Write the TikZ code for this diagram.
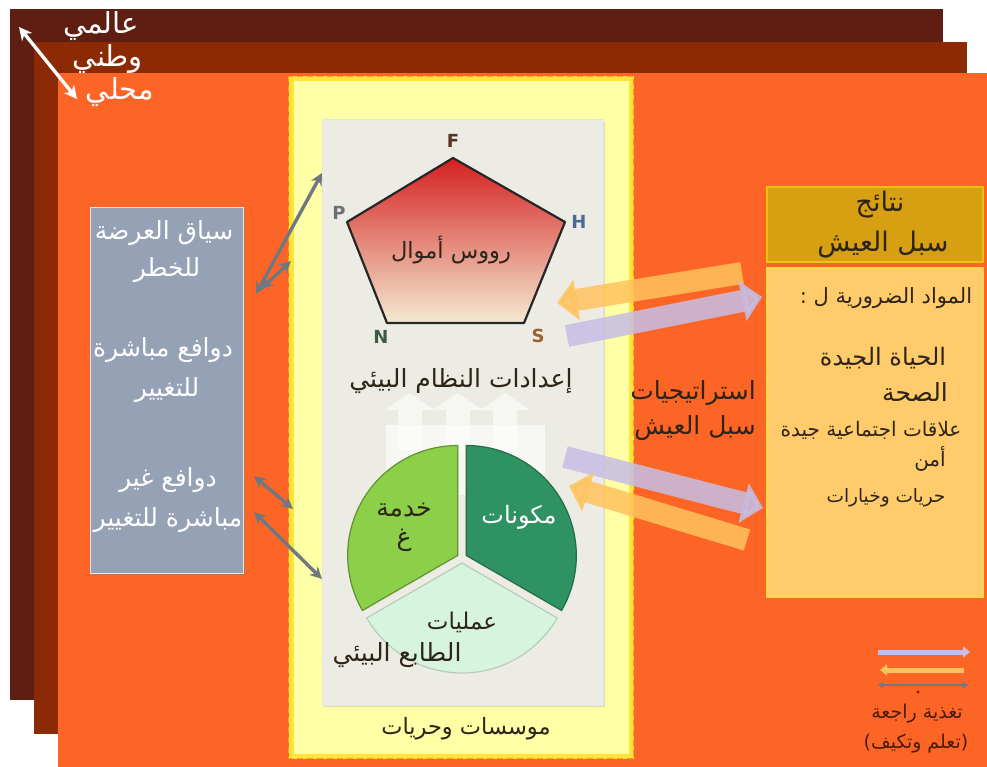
\documentclass[tikz,border=0pt]{standalone}
\usepackage{fontspec}
\setmainfont{DejaVu Sans}
\newfontfamily\arabicfont[Script=Arabic]{DejaVu Sans}
\TeXXeTstate=1
\usetikzlibrary{arrows.meta,calc,shadows}
\newcommand{\ar}[1]{{\arabicfont\beginR #1\endR}}
\definecolor{layerA}{HTML}{5E1E12}
\definecolor{layerB}{HTML}{8C2A06}
\definecolor{orng}{HTML}{FD6527}
\definecolor{ypanel}{HTML}{FFFFA6}
\definecolor{yedge}{HTML}{FFE23A}
\definecolor{ydash}{HTML}{FF9A1A}
\definecolor{gpanel}{HTML}{ECECE5}
\definecolor{lbox}{HTML}{95A1B5}
\definecolor{tbox}{HTML}{D6A012}
\definecolor{cbox}{HTML}{FFCB6B}
\definecolor{bandO}{HTML}{FFC35E}
\definecolor{bandL}{HTML}{C6BEE6}
\definecolor{garrow}{HTML}{6F7880}
\definecolor{txtdark}{HTML}{2E2418}
\definecolor{legtxt}{HTML}{4A1C0C}
\definecolor{pred}{HTML}{D42020}
\definecolor{pmid}{HTML}{EFC2B8}
\definecolor{pcream}{HTML}{F4EBD2}
\definecolor{gdark}{HTML}{2F9262}
\definecolor{glight}{HTML}{8CCF48}
\definecolor{gpale}{HTML}{D6F4DE}
\definecolor{cF}{HTML}{5A3322}
\definecolor{cP}{HTML}{707070}
\definecolor{cH}{HTML}{4A6A90}
\definecolor{cN}{HTML}{3E5C44}
\definecolor{cS}{HTML}{A0602E}
\tikzset{
  fs/.style={font=\fontsize{#1}{#1}\selectfont},
  artxt/.style={fs=24, text=txtdark, align=center, inner sep=0pt},
  wtxt/.style={artxt, text=white},
  band/.style={line width=22pt, opacity=0.85, -{Triangle[length=20pt,width=40pt]}},
  garr/.style={draw=garrow, line width=3.4pt, {Stealth[length=12pt,width=12pt]}-{Stealth[length=12pt,width=12pt]}},
  vlabel/.style={font=\fontsize{18}{18}\selectfont\bfseries, inner sep=0pt},
}
\begin{document}
\begin{tikzpicture}[x=1pt,y=-1pt]
\useasboundingbox (0,0) rectangle (987,767);
\fill[white] (0,0) rectangle (987,767);
% layers
\fill[layerA] (10,9) rectangle (943,700);
\fill[layerB] (34,42) rectangle (967,734);
\fill[orng] (58,73) rectangle (987,767);
% layer labels
\node[wtxt, fs=29] (lglobal) at (101,26) {\ar{عالمي}};
\node[wtxt, fs=29] (lnational) at (108,59) {\ar{وطني}};
\node[wtxt, fs=29] (llocal) at (120,92) {\ar{محلي}};
\coordinate (sA) at (19,27);
\coordinate (sB) at (77,99);
\draw[white, line width=3.4pt, {Stealth[length=13pt,width=13pt]}-{Stealth[length=13pt,width=13pt]}] (sA) -- (sB);
% yellow panel
\node[fill=ypanel, draw=yedge, line width=5pt, minimum width=340pt, minimum height=677pt] (ypan) at (461,417.5) {};
\draw[ydash, line width=1.8pt, dash pattern=on 6pt off 4pt] (ypan.north west) rectangle (ypan.south east);
% gray panel
\node[fill=gpanel, draw=white!80!gray, line width=1pt, minimum width=281pt, minimum height=585pt,
      drop shadow={opacity=0.25, shadow xshift=2pt, shadow yshift=-2pt}] (gpan) at (462.5,412.5) {};
% left box
\node[fill=lbox, draw=white!75!lbox, line width=1pt, minimum width=153pt, minimum height=365pt,
      drop shadow={opacity=0.45, shadow xshift=2pt, shadow yshift=-2pt}] (lbox) at (166.5,390.5) {};
\node[wtxt, fs=25] (l1a) at (164,233) {\ar{سياق العرضة}};
\node[wtxt, fs=25] (l1b) at (167,270) {\ar{للخطر}};
\node[wtxt, fs=25] (l2a) at (163,350) {\ar{دوافع مباشرة}};
\node[wtxt, fs=25] (l2b) at (167,390) {\ar{للتغيير}};
\node[wtxt, fs=25] (l3a) at (168,480) {\ar{دوافع غير}};
\node[wtxt, fs=25] (l3b) at (168,520) {\ar{مباشرة للتغيير}};
% gray connectors
\coordinate (g1a) at (256,294);
\coordinate (g1b) at (322,173);
\coordinate (g2a) at (261,289);
\coordinate (g2b) at (291,261);
\coordinate (g3a) at (254,476);
\coordinate (g3b) at (293,509);
\coordinate (g4a) at (254,512);
\coordinate (g4b) at (322,579);
\draw[garr] (g1a) -- (g1b);
\draw[garr] (g2a) -- (g2b);
\draw[garr] (g3a) -- (g3b);
\draw[garr] (g4a) -- (g4b);
% pentagon
\coordinate (pF) at (453,158);
\coordinate (pH) at (565,222);
\coordinate (pS) at (524,323);
\coordinate (pN) at (387,323);
\coordinate (pP) at (347,222);
\shadedraw[top color=pred, middle color=pmid, bottom color=pcream, draw=black!85, line width=2.2pt, line join=round]
  (pF) -- (pH) -- (pS) -- (pN) -- (pP) -- cycle;
\node[vlabel, text=cF] (tF) at (453,141) {F};
\node[vlabel, text=cP] (tP) at (339,213) {P};
\node[vlabel, text=cH] (tH) at (579,222) {H};
\node[vlabel, text=cN] (tN) at (381,337) {N};
\node[vlabel, text=cS] (tS) at (538,336) {S};
\node[artxt, fs=22.5] (capital) at (451,250) {\ar{رووس أموال}};
\node[artxt, fs=25] (ecoset) at (461,381) {\ar{إعدادات النظام البيئي}};
% up arrows behind pie
\foreach \ux in {410,458,505}{
  \fill[white, opacity=0.55] (\ux-12,450) -- (\ux-12,410) -- (\ux-25,410) -- (\ux,393) -- (\ux+25,410) -- (\ux+12,410) -- (\ux+12,450) -- cycle;
}
\fill[white, opacity=0.6] (386,425) rectangle (545,495);
% pie
\coordinate (pc) at (462,558);
\filldraw[fill=gdark, draw=gdark!75!black, line width=1.2pt] ($(pc)+(-30:5)$) -- ++(30:110) arc[start angle=30, end angle=-90, radius=110] -- cycle;
\filldraw[fill=glight, draw=glight!70!black, line width=1.2pt] ($(pc)+(-150:5)$) -- ++(-90:110) arc[start angle=-90, end angle=-210, radius=110] -- cycle;
\filldraw[fill=gpale, draw=gpale!65!gray, line width=1.2pt] ($(pc)+(90:5)$) -- ++(150:110) arc[start angle=150, end angle=30, radius=110] -- cycle;
\node[wtxt, fs=24] (compo) at (519,517) {\ar{مكونات}};
\node[artxt, fs=25] (serv1) at (404,510) {\ar{خدمة}};
\node[artxt, fs=25] (serv2) at (404,540) {\ar{غ}};
\node[artxt, fs=23] (proc1) at (462,622) {\ar{عمليات}};
\node[artxt, fs=25] (proc2) at (397,655) {\ar{الطابع البيئي}};
\node[artxt, fs=22.5] (inst) at (466,729) {\ar{موسسات وحريات}};
% right boxes
\node[fill=tbox, draw=tbox!60!yellow, line width=1.5pt, minimum width=216pt, minimum height=75pt] (tbox) at (875,224.5) {};
\node[artxt, fs=27] (t1) at (880,205) {\ar{نتائج}};
\node[artxt, fs=27] (t2) at (883,245) {\ar{سبل العيش}};
\node[fill=cbox, draw=cbox!70!yellow, line width=1.5pt, minimum width=216pt, minimum height=329pt] (cbox) at (875,432.5) {};
\node[artxt, fs=21] (c1) at (886,298) {\ar{المواد الضرورية ل :}};
\node[artxt, fs=24] (c2) at (883,358) {\ar{الحياة الجيدة}};
\node[artxt, fs=25] (c3) at (915,392) {\ar{الصحة}};
\node[artxt, fs=20] (c4) at (871,430) {\ar{علاقات اجتماعية جيدة}};
\node[artxt, fs=20] (c5) at (930,459) {\ar{أمن}};
\node[artxt, fs=18.5] (c6) at (886,498) {\ar{حريات وخيارات}};
% strategies
\node[artxt, fs=25] (s1) at (693,393) {\ar{استراتيجيات}};
\node[artxt, fs=25] (s2) at (695,428) {\ar{سبل العيش}};
% broad arrows
\coordinate (oA1) at (742,273);
\coordinate (oA2) at (557,303);
\coordinate (lA1) at (567,336);
\coordinate (lA2) at (762,297);
\coordinate (lB1) at (565,457);
\coordinate (lB2) at (763,508);
\coordinate (oB1) at (747,540);
\coordinate (oB2) at (569,486);
\draw[band, draw=bandO, fill=bandO] (oA1) -- (oA2);
\draw[band, draw=bandL, fill=bandL] (lA1) -- (lA2);
\draw[band, draw=bandL, fill=bandL] (lB1) -- (lB2);
\draw[band, draw=bandO, fill=bandO] (oB1) -- (oB2);
% legend
\coordinate (lg1a) at (878,652);
\coordinate (lg1b) at (970,652);
\coordinate (lg2a) at (964,670);
\coordinate (lg2b) at (880,670);
\coordinate (lg3a) at (878,685);
\coordinate (lg3b) at (968,685);
\draw[bandL, line width=5pt, -{Triangle[length=7pt,width=11pt]}] (lg1a) -- (lg1b);
\draw[bandO, line width=5pt, -{Triangle[length=7pt,width=11pt]}] (lg2a) -- (lg2b);
\draw[garrow, line width=2.5pt, {Stealth[length=6pt,width=7pt]}-{Stealth[length=6pt,width=7pt]}] (lg3a) -- (lg3b);
\fill[legtxt!70!red] (918,692) circle[radius=1.6];
\node[artxt, text=legtxt, fs=19] (leg1) at (917,714) {\ar{تغذية راجعة}};
\node[artxt, text=legtxt, fs=19] (leg2) at (916,744) {\ar{(تعلم وتكيف)}};
\end{tikzpicture}
\end{document}
